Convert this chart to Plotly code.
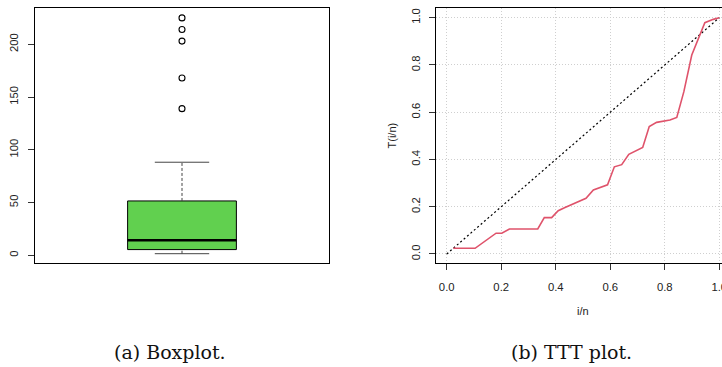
import plotly.graph_objects as go

# ---- data ----
box_stats_labels = ["lower", "q1", "median", "q3", "upper"]
box_stats = [1.5, 5.4, 14.2, 51.5, 88.2]
outliers = [139, 168, 203, 214, 225]
box_yticks = [0, 50, 100, 150, 200]

ttt_u = [0.024, 0.104, 0.181, 0.202, 0.230, 0.334, 0.358, 0.385, 0.409, 0.434,
         0.511, 0.538, 0.590, 0.615, 0.642, 0.668, 0.719, 0.743, 0.770, 0.819,
         0.844, 0.870, 0.899, 0.923, 0.947, 0.978, 1.0]
ttt_T = [0.024, 0.024, 0.088, 0.088, 0.106, 0.106, 0.154, 0.154, 0.183, 0.197,
         0.236, 0.271, 0.293, 0.369, 0.378, 0.422, 0.451, 0.539, 0.557, 0.567,
         0.578, 0.687, 0.842, 0.913, 0.979, 0.993, 1.0]
diag = [0.0, 1.0]
ttt_ticks = [0.0, 0.2, 0.4, 0.6, 0.8, 1.0]
ttt_ticklabels = ["0.0", "0.2", "0.4", "0.6", "0.8", "1.0"]

captions = ["(a) Boxplot.", "(b) TTT plot."]

# ---- styles ----
W, H = 722, 367
BOX_FILL = "#61D04F"
RED = "#DF536B"
TICKFONT = dict(family="Liberation Sans, Arial, sans-serif", size=11.3, color="#222")
LABFONT = dict(family="Liberation Sans, Arial, sans-serif", size=11, color="#222")
GRID = dict(showgrid=True, gridcolor="#CFCFCF", griddash="1px,2px", gridwidth=1)
center = 1.0
half_box = 0.185
half_cap = 0.0925

lo, q1, med, q3, up = box_stats

fig = go.Figure()

# box body
fig.add_trace(go.Scatter(
    x=[center - half_box, center + half_box, center + half_box, center - half_box, center - half_box],
    y=[q1, q1, q3, q3, q1], mode="lines", fill="toself", fillcolor=BOX_FILL,
    line=dict(color="black", width=1), xaxis="x", yaxis="y", hoverinfo="skip"))
# median
fig.add_trace(go.Scatter(x=[center - half_box, center + half_box], y=[med, med], mode="lines",
                         line=dict(color="black", width=2.6), xaxis="x", yaxis="y"))
# whiskers (dashed)
fig.add_trace(go.Scatter(x=[center, center], y=[q3, up], mode="lines",
                         line=dict(color="#444", width=1, dash="3px,2px"), xaxis="x", yaxis="y"))
fig.add_trace(go.Scatter(x=[center, center], y=[lo, q1], mode="lines",
                         line=dict(color="#444", width=1, dash="3px,2px"), xaxis="x", yaxis="y"))
# caps
fig.add_trace(go.Scatter(x=[center - half_cap, center + half_cap], y=[up, up], mode="lines",
                         line=dict(color="#444", width=1), xaxis="x", yaxis="y"))
fig.add_trace(go.Scatter(x=[center - half_cap, center + half_cap], y=[lo, lo], mode="lines",
                         line=dict(color="#444", width=1), xaxis="x", yaxis="y"))
# outliers
fig.add_trace(go.Scatter(x=[center] * len(outliers), y=outliers, mode="markers",
                         marker=dict(symbol="circle-open", size=6, color="black", line=dict(width=1.1)),
                         xaxis="x", yaxis="y"))

# TTT plot
fig.add_trace(go.Scatter(x=diag, y=diag, mode="lines",
                         line=dict(color="black", width=1.2, dash="2px,2.5px"), xaxis="x2", yaxis="y2"))
fig.add_trace(go.Scatter(x=ttt_u, y=ttt_T, mode="lines",
                         line=dict(color=RED, width=1.6), xaxis="x2", yaxis="y2"))

ydom = [(H - 263.3) / H, (H - 8.3) / H]

fig.update_layout(
    width=W, height=H, margin=dict(l=0, r=0, t=0, b=0),
    paper_bgcolor="white", plot_bgcolor="white", showlegend=False,
    xaxis=dict(domain=[35 / W, 329 / W], range=[0.5, 1.5], showgrid=False, zeroline=False,
               showticklabels=False, ticks="", showline=True, mirror=True,
               linecolor="black", linewidth=1),
    yaxis=dict(domain=ydom, range=[-7.6, 234.1], showgrid=False, zeroline=False,
               tickvals=box_yticks, tickangle=-90, ticks="outside", ticklen=6,
               tickcolor="#333", tickfont=TICKFONT, ticklabelstandoff=5,
               showline=True, mirror=True, linecolor="black", linewidth=1),
    xaxis2=dict(domain=[436.3 / W, 1.0], range=[-0.0382, 1.0099], anchor="y2",
                tickvals=ttt_ticks, ticktext=ttt_ticklabels, ticks="outside", ticklen=6,
                tickcolor="#333", tickfont=TICKFONT, ticklabelstandoff=7,
                ticklabeloverflow="allow",
                zeroline=False, showline=True, mirror=True, linecolor="black", linewidth=1,
                automargin=False, **GRID),
    yaxis2=dict(domain=ydom, range=[-0.0394, 1.0398], anchor="x2",
                tickvals=ttt_ticks, ticktext=ttt_ticklabels, tickangle=-90, ticks="outside",
                ticklen=6, tickcolor="#333", tickfont=TICKFONT, ticklabelstandoff=5,
                zeroline=False, showline=True, mirror=False, linecolor="black", linewidth=1,
                **GRID),
    annotations=[
        dict(text="T(i/n)", x=391.7 / W, y=(H - 135.8) / H, xref="paper", yref="paper",
             textangle=-90, showarrow=False, xanchor="center", yanchor="middle",
             font=LABFONT),
        dict(text="i/n", x=583 / W, y=(H - 311) / H, xref="paper", yref="paper",
             showarrow=False, xanchor="center", yanchor="middle",
             font=LABFONT),
        dict(text=captions[0], x=170 / W, y=(H - 352) / H, xref="paper", yref="paper",
             showarrow=False, xanchor="center", yanchor="middle",
             font=dict(family="DejaVu Serif, serif", size=19, color="#111")),
        dict(text=captions[1], x=571 / W, y=(H - 352) / H, xref="paper", yref="paper",
             showarrow=False, xanchor="center", yanchor="middle",
             font=dict(family="DejaVu Serif, serif", size=19, color="#111")),
    ],
)

fig.write_html("out.html", config={"displayModeBar": False},
               post_script="document.body.style.margin='0';document.body.style.overflow='hidden';")
